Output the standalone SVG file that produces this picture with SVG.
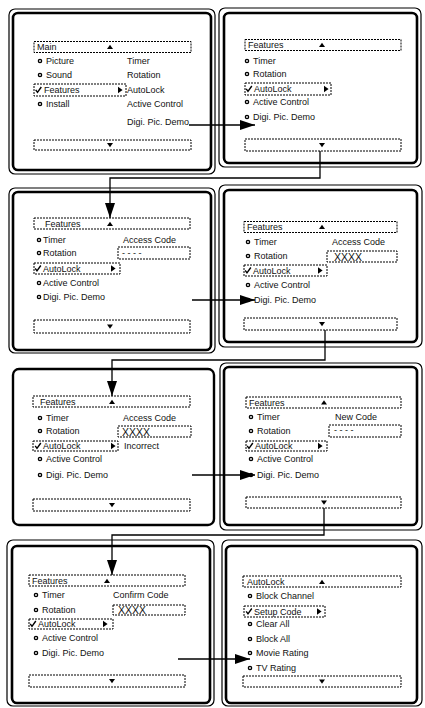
<svg xmlns="http://www.w3.org/2000/svg" xmlns:xlink="http://www.w3.org/1999/xlink" width="425" height="708" viewBox="0 0 425 708">
<style>
.outer{fill:none;stroke:#000;stroke-width:1.2}
.inner{fill:none;stroke:#000;stroke-width:2.6}
.single{fill:none;stroke:#000;stroke-width:2.4}
.dash{fill:#fff;stroke:#000;stroke-width:1;stroke-dasharray:2 1}
.bul{fill:#fff;stroke:#000;stroke-width:1.4}
.chk{fill:none;stroke:#000;stroke-width:1.4}
.tri{fill:#000}
text{font-family:"Liberation Sans",Arial,sans-serif;font-size:9px;fill:#111}
.big{font-size:10.5px}
.conn{fill:none;stroke:#000;stroke-width:1.3}
</style>
<defs>
<circle id="bul" class="bul" r="1.6"/>
<path id="tu" class="tri" d="M-3,2 L3,2 L0,-2.2 Z"/>
<path id="td" class="tri" d="M-3,-2 L3,-2 L0,2.2 Z"/>
<path id="tr" class="tri" d="M-2,-3.2 L-2,3.2 L2.6,0 Z"/>
<path id="chk" class="chk" d="M-2.8,-0.2 L-1,2.4 L2.8,-3"/>
<marker id="arr" markerUnits="userSpaceOnUse" markerWidth="15" markerHeight="10" refX="15" refY="5" orient="auto">
<path d="M0,0 L15,5 L0,10 Z" fill="#000"/>
</marker>
</defs>

<g id="panel1">
<rect class="outer" x="9" y="9" width="206" height="165" rx="6"/>
<rect class="inner" x="13" y="13" width="198" height="157" rx="5"/>
<rect class="dash" x="34" y="41.5" width="157" height="11"/>
<text x="37" y="50.2">Main</text>
<use href="#tu" x="110" y="47"/>
<use href="#bul" x="40" y="61"/><text x="46" y="64.2">Picture</text>
<use href="#bul" x="40" y="75"/><text x="46" y="78.2">Sound</text>
<rect class="dash" x="34" y="84" width="92" height="12"/>
<use href="#chk" x="38.5" y="90"/><text x="44" y="93.2">Features</text>
<use href="#tr" x="120" y="90"/>
<use href="#bul" x="40" y="104"/><text x="46" y="107.2">Install</text>
<text x="127" y="64.2">Timer</text>
<text x="127" y="78.2">Rotation</text>
<text x="127" y="93.2">AutoLock</text>
<text x="127" y="107.2">Active Control</text>
<text x="127" y="124.5">Digi. Pic. Demo</text>
<rect class="dash" x="34" y="140" width="157" height="10"/>
<use href="#td" x="110" y="145"/>
</g>

<g id="panel2">
<rect class="outer" x="219" y="8" width="202" height="159" rx="6"/>
<rect class="inner" x="224" y="13" width="193" height="150" rx="5"/>
<rect class="dash" x="245" y="39.5" width="156" height="11"/>
<text x="248" y="48.2">Features</text>
<use href="#tu" x="322" y="45"/>
<use href="#bul" x="247" y="61"/><text x="253" y="64.2">Timer</text>
<use href="#bul" x="247" y="74"/><text x="253" y="77.2">Rotation</text>
<rect class="dash" x="245" y="83" width="86" height="12"/>
<use href="#chk" x="249" y="89"/><text x="254" y="92.2">AutoLock</text>
<use href="#tr" x="326" y="89"/>
<use href="#bul" x="247" y="102"/><text x="253" y="105.2">Active Control</text>
<use href="#bul" x="247" y="117"/><text x="253" y="120.2">Digi. Pic. Demo</text>
<rect class="dash" x="245" y="139" width="156" height="12"/>
<use href="#td" x="322" y="145"/>
</g>

<g id="panel3">
<rect class="outer" x="9" y="188" width="206" height="165" rx="6"/>
<rect class="inner" x="13" y="192" width="198" height="158" rx="5"/>
<rect class="dash" x="34" y="218" width="156" height="11"/>
<text x="45" y="226.7">Features</text>
<use href="#tu" x="110" y="224"/>
<use href="#bul" x="39" y="240"/><text x="43" y="243.2">Timer</text>
<use href="#bul" x="39" y="253"/><text x="43" y="256.2">Rotation</text>
<rect class="dash" x="34" y="263" width="86" height="11"/>
<use href="#chk" x="38" y="268.5"/><text x="43" y="271.7">AutoLock</text>
<use href="#tr" x="113" y="268.5"/>
<use href="#bul" x="39" y="283"/><text x="43" y="286.2">Active Control</text>
<use href="#bul" x="39" y="297"/><text x="43" y="300.2">Digi. Pic. Demo</text>
<text x="123" y="243.2">Access Code</text>
<rect class="dash" x="118" y="247" width="72" height="12"/>
<text x="122" y="256">- - - -</text>
<rect class="dash" x="34" y="320" width="156" height="13"/>
<use href="#td" x="110" y="326.5"/>
</g>

<g id="panel4">
<rect class="outer" x="219" y="185" width="203" height="162" rx="6"/>
<rect class="inner" x="224" y="190" width="193" height="152" rx="5"/>
<rect class="dash" x="244" y="221.5" width="153" height="11"/>
<text x="247" y="230.2">Features</text>
<use href="#tu" x="322" y="227"/>
<use href="#bul" x="248" y="242"/><text x="254" y="245.2">Timer</text>
<use href="#bul" x="248" y="256"/><text x="254" y="259.2">Rotation</text>
<rect class="dash" x="244" y="265" width="83" height="11"/>
<use href="#chk" x="248" y="270.5"/><text x="253" y="273.7">AutoLock</text>
<use href="#tr" x="320" y="270.5"/>
<use href="#bul" x="248" y="285"/><text x="254" y="288.2">Active Control</text>
<use href="#bul" x="248" y="300"/><text x="254" y="303.2">Digi. Pic. Demo</text>
<text x="332" y="245.2">Access Code</text>
<rect class="dash" x="327" y="251" width="70" height="11"/>
<text class="big" x="334" y="260.5">XXXX</text>
<rect class="dash" x="244" y="318" width="153" height="12"/>
<use href="#td" x="322" y="324"/>
</g>

<g id="panel5">
<rect class="single" x="13" y="369" width="201" height="156" rx="6"/>
<rect class="dash" x="33" y="396" width="157" height="11"/>
<text x="40" y="404.7">Features</text>
<use href="#tu" x="112" y="402"/>
<use href="#bul" x="40" y="418"/><text x="46" y="421.2">Timer</text>
<use href="#bul" x="40" y="431"/><text x="46" y="434.2">Rotation</text>
<rect class="dash" x="33" y="441" width="85" height="10"/>
<use href="#chk" x="38" y="446"/><text x="43" y="449.2">AutoLock</text>
<use href="#tr" x="113" y="446"/>
<use href="#bul" x="40" y="459"/><text x="46" y="462.2">Active Control</text>
<use href="#bul" x="40" y="475"/><text x="46" y="478.2">Digi. Pic. Demo</text>
<text x="123" y="421.2">Access Code</text>
<rect class="dash" x="118" y="426" width="73" height="11"/>
<text class="big" x="122" y="435.5">XXXX</text>
<text x="124" y="449.2">Incorrect</text>
<rect class="dash" x="33" y="499" width="157" height="12"/>
<use href="#td" x="112" y="505"/>
</g>

<g id="panel6">
<rect class="outer" x="220" y="363" width="202" height="167" rx="6"/>
<rect class="inner" x="224" y="367" width="193" height="158" rx="5"/>
<rect class="dash" x="246" y="397" width="155" height="11"/>
<text x="249" y="405.7">Features</text>
<use href="#tu" x="324" y="402.5"/>
<use href="#bul" x="251" y="417"/><text x="257" y="420.2">Timer</text>
<use href="#bul" x="251" y="431"/><text x="257" y="434.2">Rotation</text>
<rect class="dash" x="246" y="441" width="81" height="10"/>
<use href="#chk" x="250" y="446"/><text x="255" y="449.2">AutoLock</text>
<use href="#tr" x="320" y="446"/>
<use href="#bul" x="251" y="459"/><text x="257" y="462.2">Active Control</text>
<use href="#bul" x="251" y="475"/><text x="257" y="478.2">Digi. Pic. Demo</text>
<text x="335" y="420.2">New Code</text>
<rect class="dash" x="329" y="425" width="72" height="12"/>
<text x="334" y="433">- - - -</text>
<rect class="dash" x="246" y="497" width="155" height="11"/>
<use href="#td" x="324" y="502.5"/>
</g>

<g id="panel7">
<rect class="outer" x="7" y="540" width="207" height="166" rx="6"/>
<rect class="inner" x="12" y="546" width="198" height="157" rx="5"/>
<rect class="dash" x="29" y="575" width="156" height="11"/>
<text x="32" y="583.7">Features</text>
<use href="#tu" x="107" y="581"/>
<use href="#bul" x="36" y="595"/><text x="42" y="598.2">Timer</text>
<use href="#bul" x="36" y="610"/><text x="42" y="613.2">Rotation</text>
<rect class="dash" x="29" y="619" width="84" height="10"/>
<use href="#chk" x="33" y="624"/><text x="38" y="627.2">AutoLock</text>
<use href="#tr" x="105" y="624"/>
<use href="#bul" x="36" y="638"/><text x="42" y="641.2">Active Control</text>
<use href="#bul" x="36" y="653"/><text x="42" y="656.2">Digi. Pic. Demo</text>
<text x="113" y="598.2">Confirm Code</text>
<rect class="dash" x="113" y="605" width="72" height="10"/>
<text class="big" x="118" y="614">XXXX</text>
<rect class="dash" x="29" y="675" width="156" height="12"/>
<use href="#td" x="112" y="681"/>
</g>

<g id="panel8">
<rect class="outer" x="222" y="540" width="200" height="166" rx="6"/>
<rect class="inner" x="226" y="546" width="191" height="157" rx="5"/>
<rect class="dash" x="243" y="576" width="158" height="11"/>
<text x="247" y="584.7">AutoLock</text>
<use href="#tu" x="322" y="582"/>
<use href="#bul" x="250" y="596"/><text x="256" y="599.2">Block Channel</text>
<rect class="dash" x="244" y="606" width="81" height="11"/>
<use href="#chk" x="249" y="611.5"/><text x="254" y="614.7">Setup Code</text>
<use href="#tr" x="319" y="611.5"/>
<use href="#bul" x="250" y="624"/><text x="256" y="627.2">Clear All</text>
<use href="#bul" x="250" y="639"/><text x="256" y="642.2">Block All</text>
<use href="#bul" x="250" y="653"/><text x="256" y="656.2">Movie Rating</text>
<use href="#bul" x="250" y="668"/><text x="256" y="671.2">TV Rating</text>
<rect class="dash" x="243" y="676" width="158" height="11"/>
<use href="#td" x="322" y="681.5"/>
</g>

<g id="connectors">
<path class="conn" marker-end="url(#arr)" d="M189,125 H255"/>
<path class="conn" marker-end="url(#arr)" d="M320,151 V178 H110 V218"/>
<path class="conn" marker-end="url(#arr)" d="M192,300 H255"/>
<path class="conn" marker-end="url(#arr)" d="M325,330 V360 H112 V396"/>
<path class="conn" marker-end="url(#arr)" d="M192,475 H255"/>
<path class="conn" marker-end="url(#arr)" d="M324,508 V535 H112 V575"/>
<path class="conn" marker-end="url(#arr)" d="M178,659 H250"/>
</g>
</svg>
